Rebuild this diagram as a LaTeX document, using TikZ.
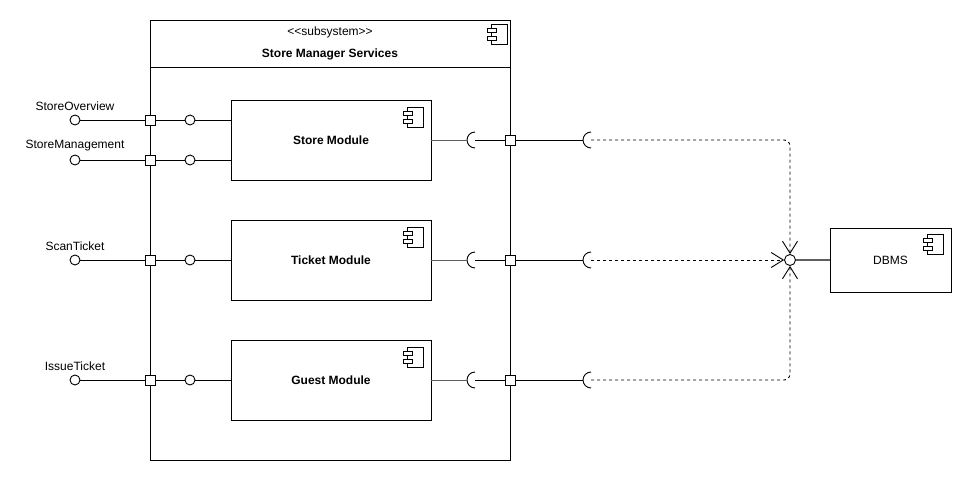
\documentclass[tikz,border=0pt]{standalone}
\usepackage{fontspec}
\setmainfont{Liberation Sans}
\definecolor{mygray}{RGB}{95,95,95}
\usetikzlibrary{positioning,arrows.meta}

\begin{document}
\begin{tikzpicture}[x=1pt,y=-1pt,line width=0.9pt,
    font=\fontsize{12}{14}\selectfont,
    box/.style={draw,rectangle,inner sep=0pt},
    module/.style={box,fill=white,minimum width=200pt,minimum height=80pt,font=\fontsize{12}{14}\selectfont\bfseries},
    port/.style={box,fill=white,minimum size=10pt},
    lolli/.style={draw,circle,fill=white,inner sep=0pt,minimum size=10pt},
    dep/.style={dash pattern=on 3pt off 3pt,rounded corners=6pt,-{Straight Barb[length=12pt,width=15pt]}},
    icon/.pic={
      \draw[line width=0.8pt] (-16,0) rectangle (0,20);
      \draw[line width=0.8pt,fill=white] (-20,4) rectangle (-11,8.5);
      \draw[line width=0.8pt,fill=white] (-20,12) rectangle (-11,16.5);
    },
    socket/.pic={
      \draw (0,8) arc[start angle=90,end angle=270,radius=8];
      \coordinate (-w) at (-8,0);
    },
    node distance=120pt
    ]
    \useasboundingbox (0,0) rectangle (971,481);

    % the subsystem
    \node (sub) [box,minimum width=360pt,minimum height=440pt] at (330,240) {};
    \draw (150,67) -- (510,67);
    \node (st) at (330,32) {{<}{<}subsystem{>}{>}};
    \node (sn) [font=\fontsize{12}{14}\selectfont\bfseries] at (330,54) {Store Manager Services};
    \pic at (507,24) {icon};

    % the modules
    \node (m1) [module] at (331,140) {Store Module};
    \node (m2) [module,below of=m1] {Ticket Module};
    \node (m3) [module,below of=m2] {Guest Module};
    \node (db) [box,minimum width=121pt,minimum height=64pt] at (890.5,260) {DBMS};
    \pic at (423,107) {icon};
    \pic at (423,227) {icon};
    \pic at (423,347) {icon};
    \pic at (943,234) {icon};

    % provided interfaces
    \node (e1) [lolli] at (75,120) {};
    \node (e2) [lolli] at (75,160) {};
    \node (e3) [lolli] at (75,260) {};
    \node (e4) [lolli] at (75,380) {};
    \node (t1) [above=0pt of e1] {StoreOverview};
    \node (t2) [above=0pt of e2] {StoreManagement};
    \node (t3) [above=0pt of e3] {ScanTicket};
    \node (t4) [above=0pt of e4] {IssueTicket};
    \node (i1) [lolli] at (190,120) {};
    \node (i2) [lolli] at (190,160) {};
    \node (i3) [lolli] at (190,260) {};
    \node (i4) [lolli] at (190,380) {};
    \node (p1) [port] at (150,120) {};
    \node (p2) [port] at (150,160) {};
    \node (p3) [port] at (150,260) {};
    \node (p4) [port] at (150,380) {};

    % required interfaces
    \pic (k1) at (475,140) {socket};
    \pic (k2) at (475,260) {socket};
    \pic (k3) at (475,380) {socket};
    \node (q1) [port] at (510,140) {};
    \node (q2) [port] at (510,260) {};
    \node (q3) [port] at (510,380) {};
    \pic (r1) at (591,140) {socket};
    \pic (r2) at (591,260) {socket};
    \pic (r3) at (591,380) {socket};
    \node (j) [lolli,minimum size=11pt] at (790,260) {};

    % the edges
    \draw (e1) -- (p1) -- (i1) -- (m1.west |- i1);
    \draw (e2) -- (p2) -- (i2) -- (m1.west |- i2);
    \draw (e3) -- (p3) -- (i3) -- (m2.west |- i3);
    \draw (e4) -- (p4) -- (i4) -- (m3.west |- i4);
    \draw[mygray] (m1.east) -- (k1-w);
    \draw[mygray] (m2.east) -- (k2-w);
    \draw[mygray] (m3.east) -- (k3-w);
    \draw (475,140) -- (q1) -- (r1-w);
    \draw (475,260) -- (q2) -- (r2-w);
    \draw (475,380) -- (q3) -- (r3-w);
    \draw[dep] (591,140) -| (j);
    \draw[dep] (591,260) -- (j);
    \draw[dep] (591,380) -| (j);
    \draw[mygray,line width=1.2pt] (j) -- (db);
\end{tikzpicture}
\end{document}
